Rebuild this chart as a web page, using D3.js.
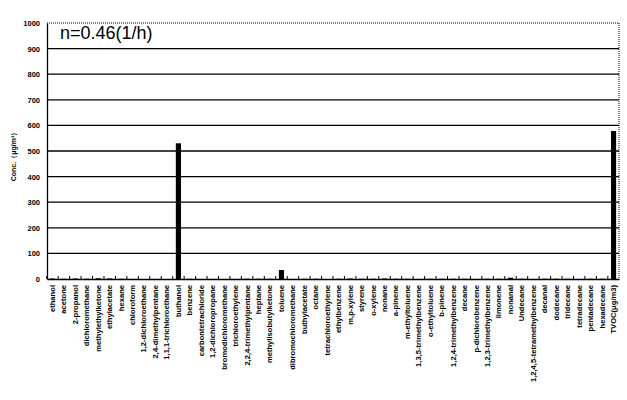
<!DOCTYPE html>
<html><head><meta charset="utf-8">
<script src="https://cdn.jsdelivr.net/npm/d3@7"></script>
<style>body{margin:0;background:#fff}svg{display:block}</style>
</head><body>
<script>
const categories = ["ethanol","acetone","2-propanol","dichloromethane","methylethylketone","ethylacetate","hexane","chloroform","1,2-dichloroethane","2,4-dimethylpentane","1,1,1-trichloroethane","buthanol","benzene","carbontetrachloride","1,2-dichloropropane","bromodichloromethane","trichloroethylene","2,2,4-trimethylpentane","heptane","methylisobutylketone","toluene","dibromochloromethane","buthylacetate","octane","tetrachloroethylene","ethylbenzene","m,p-xylene","styrene","o-xylene","nonane","a-pinene","m-ethyltoluene","1,3,5-trimethylbenzene","o-ethyltoluene","b-pinene","1,2,4-trimethylbenzene","decane","p-dichlorobenzene","1,2,3-trimethylbenzene","limonene","nonanal","Undecane","1,2,4,5-tetramethylbenzene","decanal","dodecane","tridecane","tetradecane","pentadecane","hexadecane","TVOC(μg/m3)"];
const values = [2,1,2,1,3,2,1,0,0,0,0,530,1,0,0,0,0,1,1,1,35,0,1,1,0,1,2,1,1,2,1,1,0,1,1,1,1,0,1,1,5,1,0,1,1,1,0,1,1,578];
const yTicks = [0,100,200,300,400,500,600,700,800,900,1000];
const title = "n=0.46(1/h)";
const yLabel = "Conc.（μg/m³）";

const W=627,H=400, m={l:47,r:8,t:23,b:121};
const svg=d3.select("body").append("svg").attr("width",W).attr("height",H);
const x=d3.scaleBand().domain(categories).range([m.l,W-m.r]).paddingInner(0.55).paddingOuter(0.25);
const y=d3.scaleLinear().domain([0,1000]).range([H-m.b,m.t]);
const font="'Liberation Sans', Arial, sans-serif";

// gridlines
svg.append("g").selectAll("line").data(yTicks.filter(d=>d>0&&d<1000)).join("line")
  .attr("x1",m.l).attr("x2",W-m.r).attr("y1",d=>y(d)).attr("y2",d=>y(d))
  .attr("stroke","#000").attr("stroke-width",1.3);
// frame top/right dotted
svg.append("line").attr("x1",m.l).attr("x2",W-m.r).attr("y1",y(1000)).attr("y2",y(1000))
  .attr("stroke","#000").attr("stroke-width",1).attr("stroke-dasharray","1,1");
svg.append("line").attr("x1",W-m.r).attr("x2",W-m.r).attr("y1",y(1000)).attr("y2",y(0))
  .attr("stroke","#000").attr("stroke-width",1).attr("stroke-dasharray","1,1");

// bars
svg.append("g").selectAll("rect").data(values).join("rect")
  .attr("x",(d,i)=>x(categories[i])).attr("width",x.bandwidth())
  .attr("y",d=>y(d)).attr("height",d=>y(0)-y(d)).attr("fill","#000");

// y axis
const ya=svg.append("g").attr("transform",`translate(${m.l},0)`)
  .call(d3.axisLeft(y).tickValues(yTicks).tickFormat(d3.format("d")).tickSize(0).tickPadding(7));
ya.select(".domain").attr("stroke","#000").attr("stroke-width",1.3);
ya.selectAll("text").attr("font-family",font).attr("font-size",7.5).attr("font-weight","bold");

// x axis
const xa=svg.append("g").attr("transform",`translate(0,${y(0)})`)
  .call(d3.axisBottom(x).tickSize(0).tickPadding(6));
xa.select(".domain").attr("stroke","#000").attr("stroke-width",1.3);
xa.selectAll("text").attr("font-family",font).attr("font-size",7.6).attr("font-weight","bold")
  .attr("transform","rotate(-90)").attr("text-anchor","end").attr("dy","0.32em").attr("x",-6).attr("y",0);
// small tick marks between categories
svg.append("g").selectAll("line").data(categories).join("line")
  .attr("x1",d=>x(d)-x.step()*x.paddingInner()/2).attr("x2",d=>x(d)-x.step()*x.paddingInner()/2)
  .attr("y1",y(0)).attr("y2",y(0)-3).attr("stroke","#000").attr("stroke-width",1);

// title
svg.append("text").attr("x",m.l+13).attr("y",y(1000)+16).text(title)
  .attr("font-family",font).attr("font-size",18).attr("fill","#000");
// y label
svg.append("text").attr("transform",`translate(16,155) rotate(-90)`)
  .attr("text-anchor","middle").text(yLabel)
  .attr("font-family",font).attr("font-size",7).attr("font-weight","bold");
</script>
</body></html>
